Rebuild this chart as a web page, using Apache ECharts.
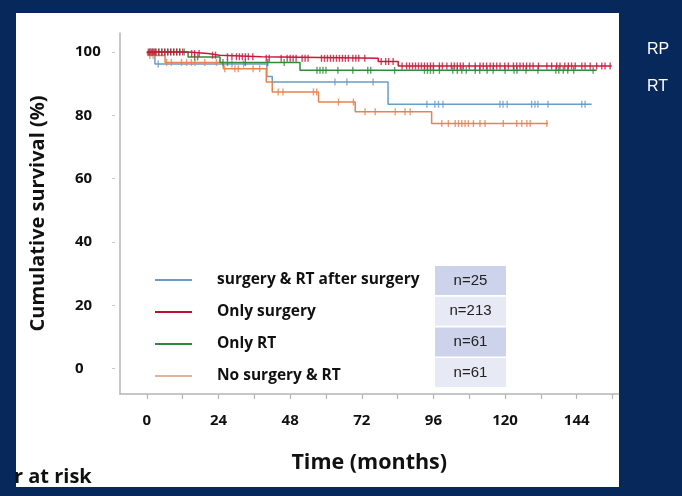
<!DOCTYPE html>
<html><head><meta charset="utf-8">
<script src="https://cdn.jsdelivr.net/npm/echarts@6/dist/echarts.min.js"></script>
<style>html,body{margin:0;padding:0;background:#06285a;}#c{width:682px;height:496px;}</style>
</head><body><div id="c"></div>
<script>
// ---- data ----
const groupNames = ['surgery & RT after surgery', 'Only surgery', 'Only RT', 'No surgery & RT'];
const groupN = ['n=25', 'n=213', 'n=61', 'n=61'];
const xTickValues = [0, 12, 24, 36, 48, 60, 72, 84, 96, 108, 120, 132, 144, 156];
const xLabelValues = [0, 24, 48, 72, 96, 120, 144];
const yTickValues = [0, 20, 40, 60, 80, 100];
const sideLabels = ['RP', 'RT'];
const footLabel = 'r at risk';

// Kaplan-Meier steps: [time (months), survival % after the step]
const blueSteps = [[0, 100], [2.7, 96.2], [40.2, 92.3], [42, 90.5], [80.8, 83.5], [149, 83.5]];
const redSteps = [[0, 100], [13.8, 99.5], [20.5, 99.0], [24.4, 98.5], [38.4, 98.0], [77.5, 97.0], [84.2, 95.6], [155.7, 95.6]];
const greenSteps = [[0, 100], [13.8, 98.4], [24.5, 96.7], [51.3, 94.2], [150.7, 94.2]];
const orangeSteps = [[0, 100], [0.4, 98.9], [6.1, 96.7], [25.6, 94.7], [40, 90.5], [42, 87.4], [57.5, 84.2], [69.8, 81.1], [95.4, 77.4], [134.4, 77.4]];

// censored observation times (months)
const blueCensor = [3.8, 28.5, 32.4, 63, 67, 75.8, 93.8, 96.5, 97.7, 99.2, 118.3, 119.3, 120.7, 128.9, 130, 131, 134.4, 145.7, 146.8];
const redCensor = [0.5, 1, 1.5, 2, 2.5, 3, 4, 5, 6, 7, 8, 9, 10, 11, 12, 15, 16, 17.5, 22, 23, 27, 28.5, 30, 31, 32, 33, 34, 35.5, 40, 41, 45, 47, 48, 49, 50, 52, 53, 54, 58.5, 59.5, 60.5, 61.5, 62.5, 63.5, 64.5, 65.5, 66.5, 67.5, 69, 70, 71, 73, 78.5, 80, 81, 82.5, 85.5, 87, 88, 89, 90, 91, 92, 93, 94, 95, 96, 98, 99, 100.5, 102, 103, 104, 105, 106, 108, 110, 111.6, 112.7, 113.8, 115, 116.1, 117.2, 118.3, 119.9, 121.1, 122.8, 123.9, 125, 126.1, 127.2, 128.3, 129.4, 131.2, 134, 135.6, 137.3, 138.4, 140, 141.2, 142.3, 143.5, 145.7, 146.8, 148.5, 150.7, 152.4, 153.5, 155.2];
const greenCensor = [1, 2, 3, 4, 5, 6, 7, 8, 9, 10, 11, 12.5, 16, 17, 25.5, 27, 33, 40.5, 46, 57, 58, 59, 60, 64, 69, 74, 75, 83, 93, 94, 95, 96, 98, 102.5, 104, 105.5, 107, 110, 111.5, 114, 116, 120, 123, 124, 127, 131, 137, 138, 139.5, 141, 143, 149.5];
const orangeCensor = [1, 2.1, 6.6, 8.2, 11.6, 13.3, 14.9, 16.1, 19.4, 23.3, 26.1, 29.5, 30.6, 35.6, 37.8, 44, 45.6, 55.8, 56.9, 64.2, 69.2, 73.1, 76.5, 83.2, 86.5, 88.2, 98.8, 101, 103.3, 104.4, 105.5, 106.6, 107.7, 109.4, 111.6, 113.3, 119.4, 123.9, 125.6, 127.3, 128.4, 134];

// ---- styling ----
const lineColors = ['#6b9bc9', '#c8183c', '#2f8a3c', '#e8834e'];
const legendColors = ['#6d9bc7', '#b8102e', '#2f8a3c', '#e2b29a'];
const boxColors = ['#cdd3ea', '#e7eaf4', '#cdd3ea', '#e7eaf4'];
const stepsAll = [blueSteps, redSteps, greenSteps, orangeSteps];
const censorAll = [blueCensor, redCensor, greenCensor, orangeCensor];

function valueAt(steps, t) {
  let v = steps[0][1];
  for (const s of steps) { if (s[0] <= t) v = s[1]; }
  return v;
}

const series = [];
groupNames.forEach((name, i) => {
  const z = 2 + (i === 1 ? 2 : i === 2 ? 1 : 0);
  series.push({
    name: name, type: 'line', step: 'end', data: stepsAll[i],
    showSymbol: false, lineStyle: { color: lineColors[i], width: 1.5 },
    itemStyle: { color: lineColors[i] }, z: z, silent: true
  });
  series.push({
    name: name + ' censored', type: 'scatter', symbol: 'rect', symbolSize: [1.4, 7],
    data: censorAll[i].map(t => [t, valueAt(stepsAll[i], t)]),
    itemStyle: { color: lineColors[i] }, z: z, silent: true
  });
});

const font = '"Open Sans", Lato, sans-serif';
const graphics = [
  { type: 'rect', shape: { x: 16, y: 13, width: 603, height: 474 }, style: { fill: '#ffffff' }, z: -10 },
  { type: 'text', x: 14, y: 477, style: { text: footLabel, font: 'bold 20px ' + font, fill: '#111', verticalAlign: 'middle' }, z: 5 }
];
sideLabels.forEach((t, i) => {
  graphics.push({ type: 'text', x: 647, y: 50 + i * 37, style: { text: t, font: '16px "Liberation Sans", Arial, sans-serif', fill: '#ffffff', verticalAlign: 'middle' } });
});
groupN.forEach((t, i) => {
  const top = 266 + i * 30.7;
  graphics.push({ type: 'rect', shape: { x: 435, y: top, width: 71, height: 29 }, style: { fill: boxColors[i] }, z: 5 });
  graphics.push({ type: 'text', x: 470.5, y: top + 14.5, style: { text: t, font: '15px "Liberation Sans", Arial, sans-serif', fill: '#222', align: 'center', verticalAlign: 'middle' }, z: 6 });
});

const chart = echarts.init(document.getElementById('c'), null, { renderer: 'canvas' });
chart.setOption({
  backgroundColor: '#06285a',
  animation: false,
  grid: { left: 120, right: 63.5, top: 33, height: 361, containLabel: false },
  xAxis: {
    type: 'value', min: -9, max: 158,
    name: 'Time (months)', nameLocation: 'middle', nameGap: 58,
    nameTextStyle: { fontFamily: font, fontWeight: 'bold', fontSize: 21.5, color: '#111' },
    axisLine: { show: true, onZero: false, lineStyle: { color: '#b5b5b5', width: 1.5 } },
    axisTick: { show: true, inside: false, length: 5, customValues: xTickValues, lineStyle: { color: '#b5b5b5', width: 1.2 } },
    axisLabel: { customValues: xLabelValues, margin: 19, fontFamily: font, fontWeight: 'bold', fontSize: 15, color: '#111' },
    splitLine: { show: false }
  },
  yAxis: {
    type: 'value', min: -8, max: 106,
    name: 'Cumulative survival (%)', nameLocation: 'middle', nameGap: 72, nameRotate: 90,
    nameTextStyle: { fontFamily: font, fontWeight: 'bold', fontSize: 20, color: '#111' },
    axisLine: { show: true, onZero: false, lineStyle: { color: '#b5b5b5', width: 1.5 } },
    axisTick: { show: true, inside: false, length: 9, customValues: yTickValues, lineStyle: { color: '#c8c8c8', width: 1, type: [0, 5, 3, 20] } },
    axisLabel: { customValues: yTickValues, margin: 45, align: 'left', fontFamily: font, fontWeight: 'bold', fontSize: 15, color: '#111' },
    splitLine: { show: false }
  },
  legend: {
    orient: 'vertical', left: 150, top: 259, itemWidth: 37, itemHeight: 2, itemGap: 0, icon: 'rect',
    selectedMode: false,
    textStyle: { fontFamily: font, fontWeight: 'bold', fontSize: 15.5, color: '#111', lineHeight: 32, height: 32, padding: [0, 0, 0, 20] },
    data: groupNames.map((n, i) => ({ name: n, itemStyle: { color: legendColors[i] } }))
  },
  graphic: graphics,
  series: series
});
</script>
</body></html>
